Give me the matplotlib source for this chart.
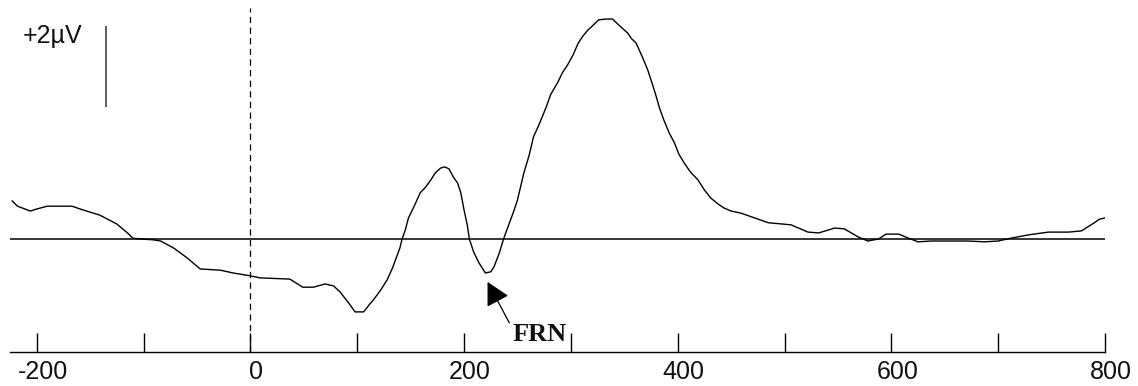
import matplotlib
matplotlib.use("Agg")
import matplotlib.pyplot as plt
import matplotlib.transforms as mtransforms
from matplotlib.ticker import FixedLocator

# ---- data ----
time_ms = [-223, -218, -206, -200, -190, -167, -157, -141, -125, -115, -110, -103,
           -91, -84, -72, -59, -47, -28, -16, 0, 9, 37, 49, 59, 70, 78, 84, 92, 98,
           106, 112, 115, 122, 128, 133, 140, 142, 145, 148, 153, 159, 164, 169,
           173, 178, 182, 186, 190, 194, 197, 200, 203, 205, 209, 214, 220, 225,
           228, 233, 237, 247, 250, 256, 261, 265, 270, 277, 281, 288, 292, 297,
           302, 307, 311, 316, 321, 326, 333, 339, 347, 353, 357, 361, 367, 372,
           376, 380, 383, 387, 392, 397, 401, 406, 412, 419, 425, 431, 438, 443,
           450, 459, 485, 506, 522, 532, 547, 556, 569, 578, 588, 595, 607, 616,
           625, 637, 653, 672, 687, 700, 712, 728, 747, 766, 778, 787, 795, 800]
amplitude_uv = [0.94, 0.81, 0.69, 0.74, 0.81, 0.81, 0.72, 0.59, 0.37, 0.15, 0.02, 0.0,
                -0.02, -0.05, -0.22, -0.47, -0.74, -0.77, -0.84, -0.91, -0.96, -0.99,
                -1.19, -1.19, -1.11, -1.16, -1.31, -1.58, -1.80, -1.80, -1.60, -1.51,
                -1.26, -1.01, -0.72, -0.22, 0.0, 0.22, 0.52, 0.79, 1.14, 1.28, 1.46,
                1.63, 1.75, 1.78, 1.73, 1.53, 1.38, 1.14, 0.72, 0.35, 0.0, -0.32,
                -0.59, -0.84, -0.81, -0.69, -0.35, 0.0, 0.72, 0.96, 1.63, 2.07, 2.52,
                2.81, 3.26, 3.56, 3.88, 4.10, 4.30, 4.54, 4.84, 5.00, 5.16, 5.28, 5.41,
                5.43, 5.43, 5.23, 5.09, 4.94, 4.84, 4.49, 4.17, 3.85, 3.51, 3.23, 2.94,
                2.62, 2.37, 2.10, 1.88, 1.65, 1.46, 1.21, 1.01, 0.86, 0.77, 0.69, 0.64,
                0.40, 0.35, 0.17, 0.15, 0.27, 0.25, 0.05, -0.05, 0.0, 0.12, 0.12, 0.02,
                -0.07, -0.05, -0.05, -0.05, -0.07, -0.05, 0.02, 0.10, 0.17, 0.17, 0.20,
                0.35, 0.49, 0.52]

major_ticks = [-200, 0, 200, 400, 600, 800]
minor_ticks = [-100, 100, 300, 500, 700]
tick_labels = ["-200", "0", "200", "400", "600", "800"]

scale_bar_time = -135           # ms position of the calibration bar
scale_bar_range = (3.26, 5.26)  # +2 µV bar
scale_label = "+2\u00b5V"
frn_peak = (222, -1.06)
frn_text_pos = (271, -2.37)

label_font = ["Liberation Sans", "DejaVu Sans"]

fig = plt.figure(figsize=(11.38, 3.86), dpi=100)
ax = fig.add_axes([10 / 1138, 34 / 386, 1095 / 1138, 352 / 386])
ax.set_xlim(-225, 800)
ax.set_ylim(-2.79, 5.90)

for s in ["top", "left", "right"]:
    ax.spines[s].set_visible(False)
ax.spines["bottom"].set_linewidth(1.0)
ax.spines["bottom"].set_color("black")
ax.yaxis.set_visible(False)

ax.xaxis.set_major_locator(FixedLocator(major_ticks))
ax.xaxis.set_minor_locator(FixedLocator(minor_ticks))
ax.set_xticklabels(tick_labels, fontfamily=label_font, fontsize=18)
ax.tick_params(axis="x", which="both", direction="in", length=13.7, width=1.0,
               color="black", pad=5.5, labelcolor="#111111")
shift = mtransforms.ScaledTranslation(6 / 100, 0, fig.dpi_scale_trans)
for lbl in ax.get_xticklabels():
    lbl.set_transform(lbl.get_transform() + shift)
for t in ax.xaxis.get_minor_ticks():
    if abs(t.get_loc() - 500) < 1e-6:
        t.tick1line.set_color("#9a9a9a")

# baseline
ax.axhline(0, color="black", lw=1.1, zorder=2)
# stimulus onset dashed line
ax.axvline(0, ymin=0, ymax=(5.70 + 2.79) / 8.69, color="black", lw=0.9,
           linestyle=(0, (5, 3.5)), zorder=1)
# waveform
ax.plot(time_ms, amplitude_uv, color="black", lw=1.0, zorder=3,
        solid_joinstyle="round")

# calibration bar
ax.plot([scale_bar_time, scale_bar_time], list(scale_bar_range), color="#333333",
        lw=1.1, solid_capstyle="butt")
ax.text(-213, 5.0, scale_label, fontfamily=label_font, fontsize=18,
        ha="left", va="center", color="#111111")

# FRN annotation
ax.annotate("FRN", xy=frn_peak, xytext=frn_text_pos, ha="center", va="center",
            fontfamily=["Liberation Serif", "DejaVu Serif"], fontweight="bold",
            fontsize=19, color="#111111",
            arrowprops=dict(arrowstyle="-|>,head_length=0.75,head_width=0.4",
                            color="black", lw=0.9, relpos=(0.0, 0.75),
                            shrinkA=1, shrinkB=0),
            annotation_clip=False)

fig.savefig("out.png", dpi=100)
